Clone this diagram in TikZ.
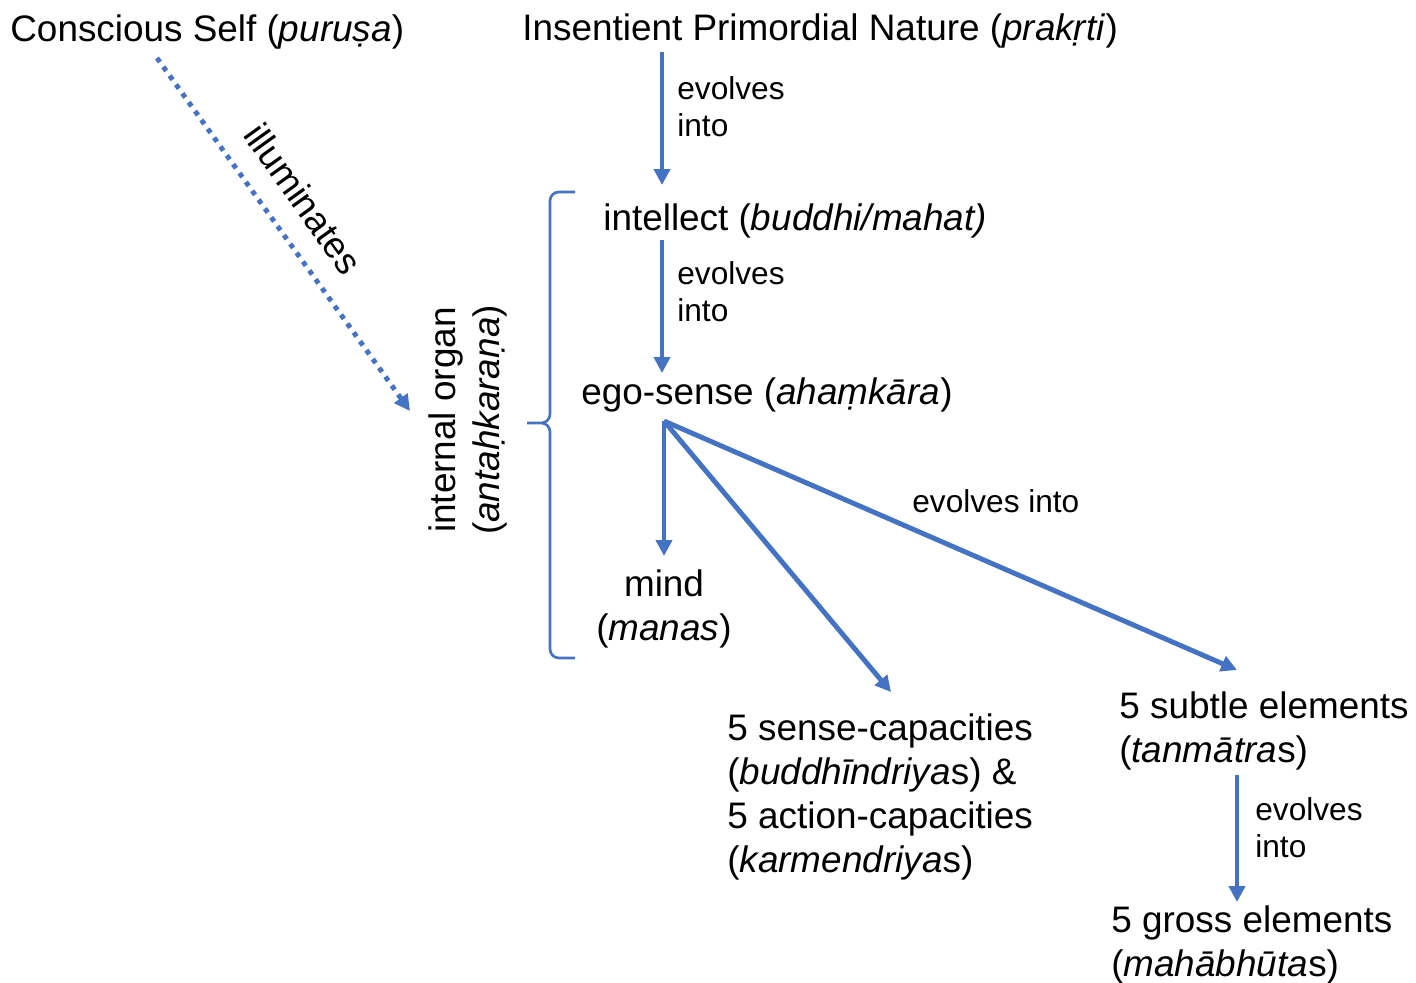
\documentclass[tikz,border=0pt]{standalone}
\usepackage{fontspec}
\setmainfont{Liberation Sans}
\usetikzlibrary{arrows.meta,calc}
\definecolor{flow}{HTML}{4472C4}
\tikzset{
  big/.style={font=\fontsize{21}{25}\selectfont, inner sep=0pt},
  small/.style={font=\fontsize{18}{21}\selectfont, inner sep=0pt, align=left, anchor=west},
  evolve/.style={draw=flow, line width=2.8pt, -{Triangle[width=9pt,length=9pt]}},
  lights/.style={draw=flow, line width=2.8pt, dash pattern=on 2.8pt off 3.4pt, -{Triangle[width=9pt,length=9pt]}},
  brace/.style={draw=flow, line width=1.5pt, rounded corners=5pt}
}
\begin{document}
\begin{tikzpicture}[x=0.02cm, y=-0.02cm, line join=round]
\useasboundingbox (0,0) rectangle (1416,983);
% top row
\node[big, anchor=west] (purusa) at (10,32) {Conscious Self (\textit{puruṣa})};
\node[big, anchor=west] (prakriti) at (522,31) {Insentient Primordial Nature (\textit{prakṛti})};
% internal organ
\node[big, anchor=west] (intellect) at (603,221) {intellect (\textit{buddhi/mahat)}};
\node[big, anchor=west] (ego) at (581,395) {ego-sense (\textit{ahaṃkāra})};
\node[big, align=center] (mind) at (664,609) {mind\\(\textit{manas})};
\node[big, rotate=90, align=center] (organ) at (468,420) {internal organ\\(\textit{antaḥkaraṇa})};
% products of ego-sense
\node[big, anchor=west, align=left] (sense) at (727,797) {5 sense-capacities\\(\textit{buddhīndriya}s) \&\\5 action-capacities\\(\textit{karmendriya}s)};
\node[big, anchor=west, align=left] (subtle) at (1119,731) {5 subtle elements\\(\textit{tanmātra}s)};
\node[big, anchor=west, align=left] (gross) at (1111,945) {5 gross elements\\(\textit{mahābhūta}s)};
% labels
\node[small] (ev1) at (677,107) {evolves\\into};
\node[small] (ev2) at (677,292) {evolves\\into};
\node[small] (ev3) at (912,501) {evolves into};
\node[small] (ev4) at (1255,828) {evolves\\into};
% bracket round the internal organ
\draw[brace] (575,192) -- (550,192) -- (550,423) -- (527,423)
             (527,423) -- (550,423) -- (550,658) -- (575,658);
% evolution arrows
\draw[evolve] ($(prakriti.west)+(140,21)$) -- ($(intellect.west)+(59,-36)$);
\draw[evolve] ($(intellect.west)+(59,19)$) -- ($(ego.west)+(81,-22)$);
\coordinate (fan) at ($(ego.west)+(83,26)$);
\draw[evolve] (fan) -- ($(mind.center)+(0,-53)$);
\draw[evolve] (fan) -- ($(sense.west)+(164,-105)$);
\draw[evolve] (fan) -- ($(subtle.west)+(118,-61)$);
\draw[evolve] ($(subtle.west)+(118,44)$) -- ($(gross.west)+(126,-43)$);
% illumination
\coordinate (lit) at ($(organ.center)+(-58,-9)$);
\draw[lights] ($(purusa.west)+(147,26)$) -- node[big, sloped, above=12pt, pos=0.46] (illum) {illuminates} (lit);
\end{tikzpicture}
\end{document}
